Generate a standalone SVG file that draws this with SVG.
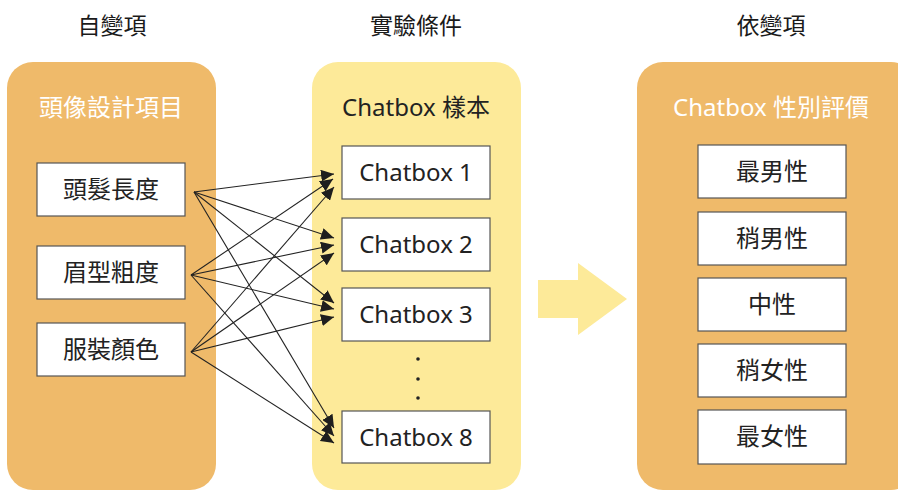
<svg xmlns="http://www.w3.org/2000/svg" width="898" height="491" viewBox="0 0 898 491">
  <style>
    .head { font-family: "Noto Sans CJK TC", "Noto Sans CJK SC", sans-serif; font-size: 23px; fill: #1a1a1a; text-anchor: middle; }
    .title { font-family: "Noto Sans", "Noto Sans CJK TC", sans-serif; font-size: 24px; text-anchor: middle; }
    .lbl { font-family: "Noto Sans", "Noto Sans CJK TC", sans-serif; font-size: 24px; fill: #222; text-anchor: middle; }
    .panel-o { fill: #EFBA6A; }
    .panel-y { fill: #FDEA99; }
    .box { fill: #fff; stroke: #555; stroke-width: 1.2; }
    .link { stroke: #222; stroke-width: 1.1; fill: none; marker-end: url(#tri); }
  </style>
  <defs>
    <marker id="tri" markerUnits="userSpaceOnUse" markerWidth="14" markerHeight="12" refX="13" refY="6" orient="auto">
      <path d="M0,0 L13,6 L0,12 Z" fill="#1e1e1e"/>
    </marker>
  </defs>
  <rect width="898" height="491" fill="#fff"/>

  <!-- column headings -->
  <text class="head" x="112" y="34">自變項</text>
  <text class="head" x="416" y="34">實驗條件</text>
  <text class="head" x="771" y="34">依變項</text>

  <!-- independent variables -->
  <g id="panel-avatar">
    <rect class="panel-o" x="7" y="62" width="209" height="428" rx="26"/>
    <text class="title" x="111" y="116" fill="#fff">頭像設計項目</text>
  </g>
  <g id="hair">
    <rect class="box" x="37" y="163" width="148" height="53"/>
    <text class="lbl" x="111" y="198">頭髮長度</text>
  </g>
  <g id="brow">
    <rect class="box" x="37" y="246" width="148" height="53"/>
    <text class="lbl" x="111" y="281">眉型粗度</text>
  </g>
  <g id="outfit">
    <rect class="box" x="37" y="323" width="148" height="53"/>
    <text class="lbl" x="111" y="358">服裝顏色</text>
  </g>

  <!-- experimental conditions -->
  <g id="panel-samples">
    <rect class="panel-y" x="312" y="62" width="209" height="428" rx="26"/>
    <text class="title" x="416" y="116" fill="#222">Chatbox 樣本</text>
  </g>
  <g id="cb1">
    <rect class="box" x="342" y="146" width="148" height="53"/>
    <text class="lbl" x="416" y="181">Chatbox 1</text>
  </g>
  <g id="cb2">
    <rect class="box" x="342" y="218" width="148" height="53"/>
    <text class="lbl" x="416" y="253">Chatbox 2</text>
  </g>
  <g id="cb3">
    <rect class="box" x="342" y="288" width="148" height="53"/>
    <text class="lbl" x="416" y="323">Chatbox 3</text>
  </g>
  <g id="ellipsis" fill="#222">
    <circle cx="418" cy="359" r="1.8"/>
    <circle cx="418" cy="379" r="1.8"/>
    <circle cx="418" cy="398" r="1.8"/>
  </g>
  <g id="cb8">
    <rect class="box" x="342" y="411" width="148" height="52"/>
    <text class="lbl" x="416" y="446">Chatbox 8</text>
  </g>

  <!-- flow arrow -->
  <g id="flow-arrow">
    <polygon points="538,280 578,280 578,263 627,299 578,335 578,318 538,318" fill="#FDEA99"/>
  </g>

  <!-- dependent variable -->
  <g id="panel-rating">
    <rect class="panel-o" x="637" y="62" width="280" height="428" rx="26"/>
    <text class="title" x="771" y="116" fill="#fff">Chatbox 性別評價</text>
  </g>
  <g id="r1">
    <rect class="box" x="698" y="145" width="148" height="53"/>
    <text class="lbl" x="772" y="180">最男性</text>
  </g>
  <g id="r2">
    <rect class="box" x="698" y="212" width="148" height="53"/>
    <text class="lbl" x="772" y="247">稍男性</text>
  </g>
  <g id="r3">
    <rect class="box" x="698" y="278" width="148" height="53"/>
    <text class="lbl" x="772" y="313">中性</text>
  </g>
  <g id="r4">
    <rect class="box" x="698" y="344" width="148" height="53"/>
    <text class="lbl" x="772" y="379">稍女性</text>
  </g>
  <g id="r5">
    <rect class="box" x="698" y="410" width="148" height="54"/>
    <text class="lbl" x="772" y="445">最女性</text>
  </g>

  <!-- connectors: every design item to every sample -->
  <g id="connectors">
    <line class="link" x1="194" y1="192" x2="334" y2="174"/>
    <line class="link" x1="194" y1="192" x2="334" y2="238"/>
    <line class="link" x1="194" y1="192" x2="334" y2="303"/>
    <line class="link" x1="194" y1="192" x2="334" y2="428"/>
    <line class="link" x1="191" y1="275" x2="333" y2="179"/>
    <line class="link" x1="191" y1="275" x2="334" y2="245"/>
    <line class="link" x1="191" y1="275" x2="334" y2="309"/>
    <line class="link" x1="191" y1="275" x2="334" y2="436"/>
    <line class="link" x1="191" y1="352" x2="334" y2="187"/>
    <line class="link" x1="191" y1="352" x2="334" y2="253"/>
    <line class="link" x1="191" y1="352" x2="334" y2="317"/>
    <line class="link" x1="191" y1="352" x2="334" y2="443"/>
  </g>
</svg>
